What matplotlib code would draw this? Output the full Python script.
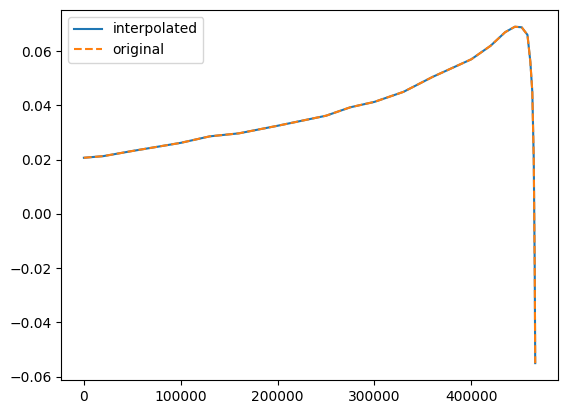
import matplotlib
matplotlib.use("Agg")
import matplotlib.pyplot as plt

# values
x_vals = [0, 20000, 50000, 80000, 100000, 130000, 160000, 200000, 250000, 275000,
          300000, 330000, 360000, 400000, 420000, 435000, 445000, 452000, 458000,
          461000, 463000, 464500, 465500, 466000]
y_vals = [0.0207, 0.0213, 0.0232, 0.0250, 0.0262, 0.0286, 0.0297, 0.0325, 0.0362, 0.0393,
          0.0413, 0.0450, 0.0505, 0.0570, 0.0620, 0.0670, 0.0690, 0.0688, 0.0660,
          0.0560, 0.0450, 0.0200, -0.0200, -0.0550]

fig = plt.figure(figsize=(5.68, 4.13), dpi=100)
ax = fig.add_axes([0.108, 0.08, 0.874, 0.896])
ax.plot(x_vals, y_vals, label="interpolated")
ax.plot(x_vals, y_vals, "--", label="original")
ax.legend(loc="upper left")
fig.savefig("out.png", dpi=100)
